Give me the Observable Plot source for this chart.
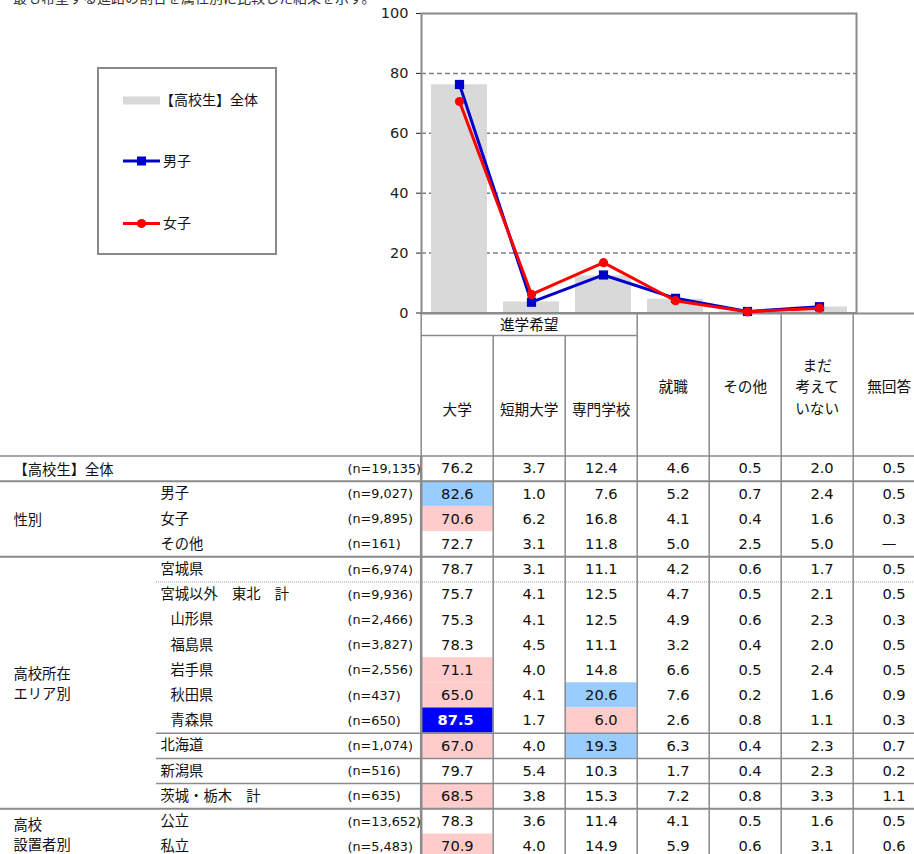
<!DOCTYPE html>
<html><head><meta charset="utf-8">
<script src="https://cdn.jsdelivr.net/npm/d3@7"></script>
<script src="https://cdn.jsdelivr.net/npm/@observablehq/plot@0.6"></script>
<style>
body{margin:0;overflow:hidden;background:#fff;font-family:"DejaVu Sans","Noto Sans CJK JP",sans-serif;}
#wrap{position:relative;width:914px;height:854px;overflow:hidden;background:#fff;}
#wrap > svg, #wrap > div, #wrap > figure{position:absolute;margin:0;}
</style></head><body><div id="wrap"></div>
<script>
// ---------- data ----------
const titleText = "最も希望する進路の割合を属性別に比較した結果を示す。";
const categories = ["大学","短期大学","専門学校","就職","その他","まだ考えていない"];
const seriesNames = ["【高校生】全体","男子","女子"];
const totalValues  = [76.2, 3.7, 12.4, 4.6, 0.5, 2.0];
const maleValues   = [76.3, 3.6, 12.7, 4.9, 0.5, 2.1];
const femaleValues = [70.6, 6.2, 16.8, 4.1, 0.4, 1.6];
const yTicks = [0, 20, 40, 60, 80, 100];
const gridTicks = [20, 40, 60, 80];

const headerGroup = "進学希望";
const headerGroupSpan = 3;
const tableColumns = ["大学","短期大学","専門学校","就職","その他","まだ\n考えて\nいない","無回答"];
const groupLabels = ["【高校生】全体","性別","高校所在\nエリア別","高校\n設置者別"];
const rowLabels = ["","男子","女子","その他","宮城県","宮城以外　東北　計","山形県","福島県","岩手県","秋田県","青森県","北海道","新潟県","茨城・栃木　計","公立","私立"];
const rowGroup  = [0,1,1,1,2,2,2,2,2,2,2,2,2,2,3,3];
const rowSub    = [0,0,0,0,0,0,1,1,1,1,1,0,0,0,0,0];
const rowN = ["19,135","9,027","9,895","161","6,974","9,936","2,466","3,827","2,556","437","650","1,074","516","635","13,652","5,483"];
const tableValues = [
  [76.2,3.7,12.4,4.6,0.5,2.0,0.5],
  [82.6,1.0,7.6,5.2,0.7,2.4,0.5],
  [70.6,6.2,16.8,4.1,0.4,1.6,0.3],
  [72.7,3.1,11.8,5.0,2.5,5.0,null],
  [78.7,3.1,11.1,4.2,0.6,1.7,0.5],
  [75.7,4.1,12.5,4.7,0.5,2.1,0.5],
  [75.3,4.1,12.5,4.9,0.6,2.3,0.3],
  [78.3,4.5,11.1,3.2,0.4,2.0,0.5],
  [71.1,4.0,14.8,6.6,0.5,2.4,0.5],
  [65.0,4.1,20.6,7.6,0.2,1.6,0.9],
  [87.5,1.7,6.0,2.6,0.8,1.1,0.3],
  [67.0,4.0,19.3,6.3,0.4,2.3,0.7],
  [79.7,5.4,10.3,1.7,0.4,2.3,0.2],
  [68.5,3.8,15.3,7.2,0.8,3.3,1.1],
  [78.3,3.6,11.4,4.1,0.5,1.6,0.5],
  [70.9,4.0,14.9,5.9,0.6,3.1,0.6]
];
// highlighted cells: [row, column, level]
const highlights = [[1,0,"high"],[2,0,"low"],[8,0,"low"],[9,0,"low"],[9,2,"high"],[10,0,"veryHigh"],[10,2,"low"],[11,0,"low"],[11,2,"high"],[13,0,"low"],[15,0,"low"]];
const subDividers = [5, 11, 12, 13];   // lines inside the area group
const dottedDividers = [5];

// ---------- layout ----------
const FONT = "'DejaVu Sans','Noto Sans CJK JP',sans-serif";
const JP = "'Noto Sans CJK JP','DejaVu Sans',sans-serif";
const GRAY = "#8a8a8a";
const wrap = document.getElementById("wrap");

// ---------- table ----------
const COL_W = 72, ROW_H = 25.2, TABLE_X0 = 420.7, HEADER_H = 142.5, TABLE_TOP = 313, TABLE_H = 541;
const colU = px => (px - TABLE_X0) / COL_W;
const rowU = py => (py - HEADER_H) / ROW_H;
const nCols = tableColumns.length, nRows = rowLabels.length;
const hlMap = new Map(highlights.map(([r,c,l]) => [r + "-" + c, l]));
const cells = tableValues.flatMap((r,i) => r.map((v,j) => ({row:i, col:j, value:v, level: hlMap.get(i + "-" + j)})));
const fillOf = {high:"#99ccff", low:"#ffcccc", veryHigh:"#0000ff"};
const groups = groupLabels.map((g,k) => {
  const idx = rowGroup.map((x,i) => x === k ? i : -1).filter(i => i >= 0);
  return {label:g, first:idx[0], last:idx[idx.length-1]};
});
const rows = rowLabels.map((l,i) => ({row:i, label:l, sub:rowSub[i], n:rowN[i]}));
const groupStarts = groups.map(g => g.first).filter(r => r > 0);
const xL = colU(0), xSub = colU(156), yTop = rowU(0), yGroupLine = rowU(335 - TABLE_TOP), yBot = rowU(TABLE_H);

const table = Plot.plot({
  width: 914, height: TABLE_H,
  x: {type:"linear", domain:[colU(0), colU(914)], range:[0, 914], axis:null},
  y: {type:"linear", domain:[rowU(0), rowU(TABLE_H)], range:[0, TABLE_H], axis:null},
  style: {background:"transparent", fontFamily:FONT, fontSize:"14.67px", color:"#111", overflow:"visible"},
  marks: [
    Plot.rect(cells.filter(d => d.level), {x1: d => d.col, x2: d => d.col + 1, y1: d => d.row, y2: d => d.row + 1, fill: d => fillOf[d.level]}),
    // horizontal rules
    Plot.ruleY([yTop], {x1: 0, x2: nCols, stroke: GRAY, strokeWidth: 2}),
    Plot.ruleY([yGroupLine], {x1: 0, x2: headerGroupSpan, stroke: GRAY, strokeWidth: 1.5}),
    Plot.ruleY([0], {x1: xL, x2: nCols, stroke: GRAY, strokeWidth: 1.5}),
    Plot.ruleY(groupStarts, {x1: xL, x2: nCols, stroke: GRAY, strokeWidth: 2}),
    Plot.ruleY(subDividers.filter(r => !dottedDividers.includes(r)), {x1: xSub, x2: nCols, stroke: GRAY, strokeWidth: 1.5}),
    Plot.ruleY(dottedDividers, {x1: xSub, x2: nCols, stroke: "#999", strokeWidth: 1, strokeDasharray: "1,1"}),
    // vertical rules
    Plot.ruleX(d3.range(headerGroupSpan, nCols + 1), {y1: yTop, y2: yBot, stroke: GRAY, strokeWidth: 1.5}),
    Plot.ruleX(d3.range(1, headerGroupSpan), {y1: yGroupLine, y2: yBot, stroke: GRAY, strokeWidth: 1.5}),
    Plot.ruleX([0], {y1: yTop, y2: 0, stroke: GRAY, strokeWidth: 1.5}),
    Plot.ruleX([0], {y1: 0, y2: yBot, stroke: GRAY, strokeWidth: 2.5}),
    // header text
    Plot.text([headerGroup], {x: () => headerGroupSpan / 2, y: () => rowU(325 - TABLE_TOP), text: d => d, fontFamily: JP, fontSize: 14.67}),
    Plot.text(tableColumns, {x: (d,i) => i + 0.5, y: (d,i) => i < headerGroupSpan ? rowU(407.5 - TABLE_TOP) : rowU(385 - TABLE_TOP), text: d => d, lineHeight: 1.47, fontFamily: JP, fontSize: 14.67}),
    // row labels
    Plot.text(groups, {x: () => colU(13), y: d => (d.first + d.last + 1) / 2, text: "label", textAnchor: "start", lineHeight: 1.38, fontFamily: JP, fontSize: 14.3}),
    Plot.text(rows.filter(d => d.label), {x: d => colU(d.sub ? 170 : 160), y: d => d.row + 0.5, text: "label", textAnchor: "start", fontFamily: JP, fontSize: 14.3}),
    Plot.text(rows, {x: () => colU(347), y: d => d.row + 0.5, text: d => `(n=${d.n})`, textAnchor: "start", fontSize: 12.8}),
    // values
    Plot.text(cells.filter(d => d.value != null && d.level !== "veryHigh"), {x: d => d.col + 0.5, y: d => d.row + 0.5, text: d => d.value.toFixed(1), textAnchor: "end", dx: 16.5, fill: "#111"}),
    Plot.text(cells.filter(d => d.value != null && d.level === "veryHigh"), {x: d => d.col + 0.5, y: d => d.row + 0.5, text: d => d.value.toFixed(1), textAnchor: "end", dx: 16.5, fill: "white", fontWeight: "bold"}),
    Plot.text(cells.filter(d => d.value == null), {x: d => d.col + 0.5, y: d => d.row + 0.5, text: () => "—", fill: "#111"})
  ]
});
table.style.left = "0px"; table.style.top = TABLE_TOP + "px";
wrap.appendChild(table);

// ---------- chart ----------
const chartData = categories.map((c,i) => ({cat:c, total:totalValues[i], male:maleValues[i], female:femaleValues[i]}));
const chart = Plot.plot({
  width: 914, height: 330,
  marginLeft: 421, marginRight: 58, marginTop: 13, marginBottom: 17.5,
  x: {domain: categories, paddingInner: 0.228, paddingOuter: 0.114, axis: null},
  y: {domain: [0, 100], ticks: yTicks, tickSize: 5, tickPadding: 8, label: null, tickFormat: d => String(d)},
  style: {background: "transparent", overflow: "visible", fontFamily: FONT, fontSize: "14.5px", color: "#222"},
  marks: [
    Plot.ruleY(gridTicks, {stroke: "#808080", strokeWidth: 1.5, strokeDasharray: "5,3"}),
    Plot.barY(chartData, {x: "cat", y: "total", fill: "#d9d9d9"}),
    Plot.frame({stroke: GRAY, strokeWidth: 2}),
    Plot.lineY(chartData, {x: "cat", y: "male", stroke: "#0000cc", strokeWidth: 3}),
    Plot.dot(chartData, {x: "cat", y: "male", symbol: "square", r: 5.2, fill: "#0000cc"}),
    Plot.lineY(chartData, {x: "cat", y: "female", stroke: "#ff0000", strokeWidth: 3}),
    Plot.dot(chartData, {x: "cat", y: "female", r: 4.6, fill: "#ff0000"})
  ]
});
chart.style.left = "0px"; chart.style.top = "0px";
wrap.appendChild(chart);

// ---------- legend ----------
const lg = d3.select(wrap).append("svg")
  .attr("width", 182).attr("height", 190)
  .style("left", "97px").style("top", "67px");
lg.append("rect").attr("x", 1).attr("y", 1).attr("width", 178).attr("height", 186)
  .attr("fill", "#fff").attr("stroke", GRAY).attr("stroke-width", 2);
const itemY = [33.5, 94, 156.5];
const sw = {x1: 26, x2: 63};
seriesNames.forEach((name, i) => {
  const g = lg.append("g").attr("transform", `translate(0,${itemY[i]})`);
  if (i === 0) {
    g.append("rect").attr("x", sw.x1).attr("y", -4).attr("width", sw.x2 - sw.x1).attr("height", 8).attr("fill", "#d9d9d9");
  } else {
    const col = i === 1 ? "#0000cc" : "#ff0000";
    g.append("line").attr("x1", sw.x1).attr("x2", sw.x2).attr("stroke", col).attr("stroke-width", 3);
    if (i === 1) g.append("rect").attr("x", (sw.x1 + sw.x2) / 2 - 4.5).attr("y", -4.5).attr("width", 9).attr("height", 9).attr("fill", col);
    else g.append("circle").attr("cx", (sw.x1 + sw.x2) / 2).attr("r", 4.6).attr("fill", col);
  }
  g.append("text").attr("x", i === 0 ? 63 : 66).attr("dy", "0.35em")
    .attr("font-family", JP).attr("font-size", 14).attr("fill", "#111").text(name);
});

// ---------- clipped title ----------
d3.select(wrap).append("div").text(titleText)
  .style("left", "13px").style("top", "-11px").style("font-size", "14px")
  .style("line-height", "16px").style("white-space", "nowrap").style("color", "#333")
  .style("font-family", JP);
</script></body></html>
